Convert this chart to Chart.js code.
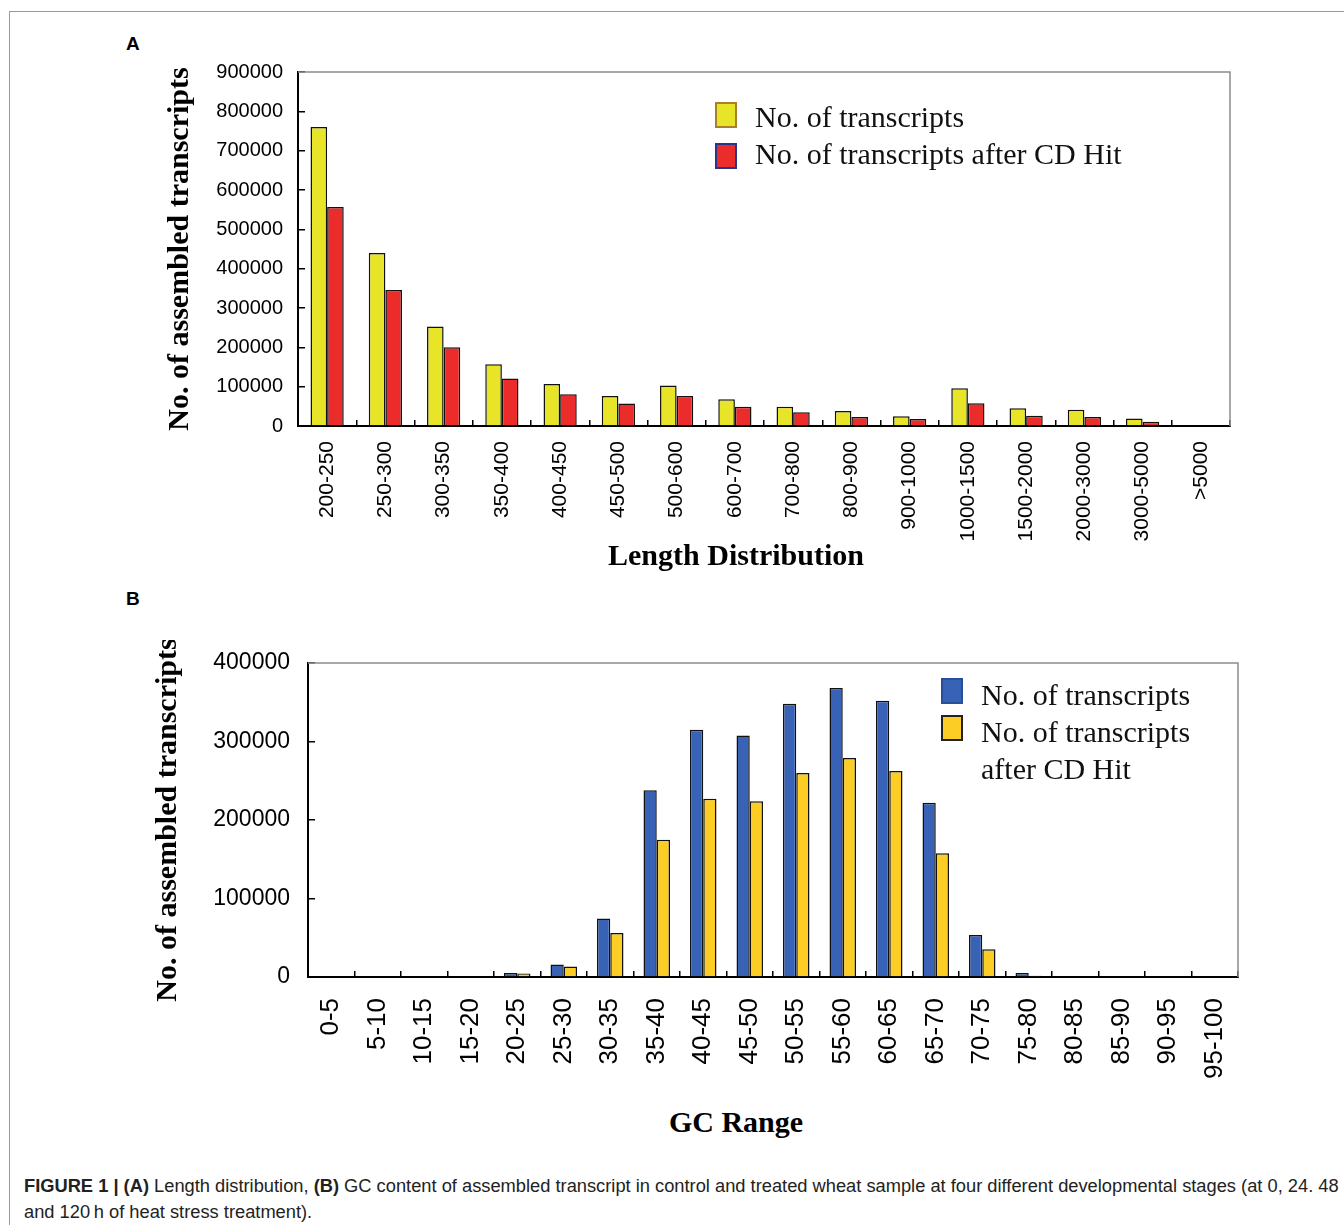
<!DOCTYPE html>
<html lang="en">
  <head>
    <meta charset="UTF-8" />
    <title>Figure 1: transcript length and GC content</title>
    <script src="https://cdn.jsdelivr.net/npm/chart.js@4.4.1/dist/chart.umd.min.js"></script>
    <style>
      body { margin: 0; background: #fff; width: 1344px; height: 1225px; overflow: hidden; position: relative; }
      .frame { position: absolute; left: 9px; top: 11px; width: 1400px; height: 1300px;
               border-left: 1.5px solid #9a9a9a; border-top: 1.5px solid #9a9a9a; }
      .panel { position: absolute; font: bold 19px "Liberation Sans", Arial, sans-serif; }
      canvas { position: absolute; }
      .xtitle { position: absolute; width: 400px; margin-left: -200px; text-align: center;
                font: bold 30px "Liberation Serif", "Times New Roman", serif; line-height: 36px; }
      .legend { position: absolute; font: 30px "Liberation Serif", "Times New Roman", serif; color: #111; }
      .legend .row { position: relative; line-height: 37px; }
      .legend .box { position: absolute; left: 0; width: 18px; height: 22px; border: 2px solid #000; }
      .caption { position: absolute; left: 24px; top: 1173px; font: 18.3px "Liberation Sans", Arial, sans-serif;
                 color: #222; line-height: 26px; white-space: nowrap; }
    </style>
  </head>
  <body>
    <div class="frame"></div>
    <div class="panel" style="left:126px; top:33px;">A</div>
    <div class="panel" style="left:126px; top:588px;">B</div>

    <canvas id="chartA" width="1110" height="510" style="left:150px; top:50px;"></canvas>
    <div class="xtitle" style="left:736px; top:537px;">Length Distribution</div>
    <div class="legend" id="legendA" style="left:715px; top:98px;"></div>

    <canvas id="chartB" width="1110" height="460" style="left:150px; top:640px;"></canvas>
    <div class="xtitle" style="left:736px; top:1104px;">GC Range</div>
    <div class="legend" id="legendB" style="left:941px; top:676px;"></div>

    <div class="caption">
      <b>FIGURE 1 |</b> <b>(A)</b> Length distribution, <b>(B)</b> GC content of assembled transcript in control and treated wheat sample at four different developmental stages (at 0, 24. 48<br>
      and 120&#8201;h of heat stress treatment).
    </div>

    <script>
      // values (number of transcripts per bin)
      const lengthLabels = ['200-250', '250-300', '300-350', '350-400', '400-450', '450-500', '500-600', '600-700',
        '700-800', '800-900', '900-1000', '1000-1500', '1500-2000', '2000-3000', '3000-5000', '>5000'];
      const lengthTotal = [760000, 440000, 253000, 157000, 107000, 76000, 103000, 68000,
        49000, 38000, 25000, 96000, 45000, 41000, 19000, 0];
      const lengthCdHit = [557000, 346000, 200000, 121000, 81000, 57000, 76000, 49000,
        35000, 23000, 18000, 58000, 26000, 23000, 11000, 0];

      const gcLabels = ['0-5', '5-10', '10-15', '15-20', '20-25', '25-30', '30-35', '35-40', '40-45', '45-50',
        '50-55', '55-60', '60-65', '65-70', '70-75', '75-80', '80-85', '85-90', '90-95', '95-100'];
      const gcTotal = [0, 0, 0, 0, 5000, 16000, 74500, 238000, 315000, 307500,
        348000, 368000, 352000, 222000, 53500, 5000, 0, 0, 0, 0];
      const gcCdHit = [0, 0, 0, 0, 4500, 13500, 56000, 175000, 227000, 224000,
        260000, 279000, 262500, 157500, 35500, 1500, 0, 0, 0, 0];

      const seriesNames = ['No. of transcripts', 'No. of transcripts after CD Hit'];

      Chart.defaults.font.family = '"Liberation Sans", Arial, sans-serif';
      Chart.defaults.color = '#000';

      // grey top and right edges of the plot box
      const boxEdges = {
        id: 'boxEdges',
        afterDraw(chart) {
          const { ctx, chartArea: a } = chart;
          ctx.save();
          ctx.strokeStyle = '#8c8c8c';
          ctx.lineWidth = 1.5;
          ctx.beginPath();
          ctx.moveTo(a.left, a.top);
          ctx.lineTo(a.right, a.top);
          ctx.lineTo(a.right, a.bottom);
          ctx.stroke();
          ctx.restore();
        }
      };

      function makeChart(id, cfg) {
        return new Chart(document.getElementById(id), {
          type: 'bar',
          data: {
            labels: cfg.labels,
            datasets: cfg.series.map((s, i) => ({
              label: s.name,
              data: s.data,
              backgroundColor: s.color,
              borderColor: '#111',
              borderWidth: 1.5,
              legendBorder: s.legendBorder,
              categoryPercentage: cfg.catPct,
              barPercentage: 1.0
            }))
          },
          options: {
            responsive: false,
            animation: false,
            layout: { padding: cfg.padding },
            plugins: { legend: { display: false }, tooltip: { enabled: false } },
            scales: {
              x: {
                grid: { drawOnChartArea: false, tickLength: -6, color: '#000', lineWidth: 1.5 },
                border: { color: '#000', width: 2 },
                ticks: { minRotation: 90, maxRotation: 90, autoSkip: false, padding: cfg.xPad,
                         font: { size: cfg.xFont } },
                afterFit: (s) => {
                  s.height = cfg.xHeight;
                  s.paddingLeft = 0;
                  s.paddingRight = 0;
                }
              },
              y: {
                min: 0,
                max: cfg.yMax,
                grid: { drawOnChartArea: false, tickLength: -7, color: '#000', lineWidth: 1.5 },
                border: { color: '#000', width: 2 },
                ticks: { stepSize: 100000, padding: cfg.yPad, font: { size: cfg.yFont },
                         callback: (v) => String(v) },
                title: {
                  display: true,
                  text: 'No. of assembled transcripts',
                  font: { family: '"Liberation Serif", "Times New Roman", serif', weight: 'bold', size: 30 },
                  padding: { top: cfg.yTitlePad, bottom: 0 }
                },
                afterFit: (s) => {
                  s.width = cfg.yWidth;
                  // labels may stick out above the box; the layout padding covers that
                  s.paddingTop = 0;
                  s.paddingBottom = 0;
                }
              }
            }
          },
          plugins: [boxEdges]
        });
      }

      function buildLegend(elId, chart, textWidth, boxTop) {
        const el = document.getElementById(elId);
        chart.data.datasets.forEach((ds, i) => {
          const row = document.createElement('div');
          row.className = 'row';
          const box = document.createElement('div');
          box.className = 'box';
          box.style.background = ds.backgroundColor;
          box.style.borderColor = ds.legendBorder;
          box.style.top = boxTop[i] + 'px';
          const txt = document.createElement('div');
          txt.style.marginLeft = '40px';
          txt.style.width = textWidth + 'px';
          txt.textContent = ds.label;
          row.appendChild(box);
          row.appendChild(txt);
          el.appendChild(row);
        });
      }

      const chartA = makeChart('chartA', {
        labels: lengthLabels,
        series: [
          { name: seriesNames[0], data: lengthTotal, color: '#e8e528', legendBorder: '#a8802a' },
          { name: seriesNames[1], data: lengthCdHit, color: '#ec2b2b', legendBorder: '#24378a' }
        ],
        catPct: 0.57,
        padding: { top: 22, right: 30, left: 0, bottom: 0 },
        yMax: 900000, yWidth: 148, yPad: 22, yFont: 20, yTitlePad: 12,
        xHeight: 134, xPad: 21, xFont: 21
      });

      const chartB = makeChart('chartB', {
        labels: gcLabels,
        series: [
          { name: seriesNames[0], data: gcTotal, color: '#3862b6', legendBorder: '#2a4f9a' },
          { name: seriesNames[1], data: gcCdHit, color: '#fbcd25', legendBorder: '#222' }
        ],
        catPct: 0.57,
        padding: { top: 23, right: 22, left: 0, bottom: 0 },
        yMax: 400000, yWidth: 158, yPad: 25, yFont: 23, yTitlePad: 0,
        xHeight: 123, xPad: 27, xFont: 26
      });

      buildLegend('legendA', chartA, 420, [4, 8]);
      buildLegend('legendB', chartB, 230, [2, 2]);
    </script>
  </body>
</html>
